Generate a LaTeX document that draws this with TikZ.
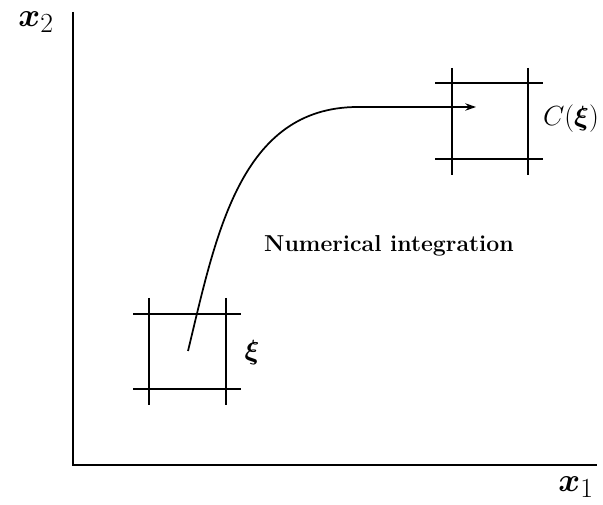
\documentclass[tikz,border=0pt]{standalone}
\usepackage{amsmath}
\usetikzlibrary{arrows.meta}

\begin{document}
\begin{tikzpicture}[
  x=0.75pt, y=-0.75pt,
  axis/.style={line width=1.9pt},
  gridline/.style={line width=2pt},
  flow/.style={line width=1.3pt, -{Stealth[length=8pt, width=5.5pt]}},
  lbl/.style={inner sep=0pt}
]
\useasboundingbox (0,0) rectangle (603,505);

% axes
\coordinate (origin) at (73,465);
\draw[axis] (73,12) -- (origin) -- (597,465);
\node[lbl, font=\fontsize{30}{34}\selectfont] (xtwo) at (36,22) {$\boldsymbol{x}_2$};
\node[lbl, font=\fontsize{30}{34}\selectfont] (xone) at (576,487) {$\boldsymbol{x}_1$};

% lower-left cell
\foreach \x in {149,226} \draw[gridline] (\x,298) -- (\x,405);
\foreach \y in {314,389} \draw[gridline] (133,\y) -- (241,\y);
\node[lbl, font=\fontsize{21}{25}\selectfont] (xi) at (252,353) {$\boldsymbol{\xi}$};

% upper-right cell
\foreach \x in {452,528} \draw[gridline] (\x,68) -- (\x,175);
\foreach \y in {83,159} \draw[gridline] (435,\y) -- (543,\y);
\node[lbl, font=\fontsize{21}{25}\selectfont] (cxi) at (571,119) {$C(\boldsymbol{\xi})$};

% trajectory
\coordinate (start) at (188,351);
\coordinate (bend) at (358,107);
\coordinate (stop) at (476,107);
\draw[flow] (start) .. controls (216,235) and (240,107) .. (bend) -- (stop);

\node[lbl, font=\LARGE\bfseries] (numint) at (389,246) {Numerical integration};
\end{tikzpicture}
\end{document}
